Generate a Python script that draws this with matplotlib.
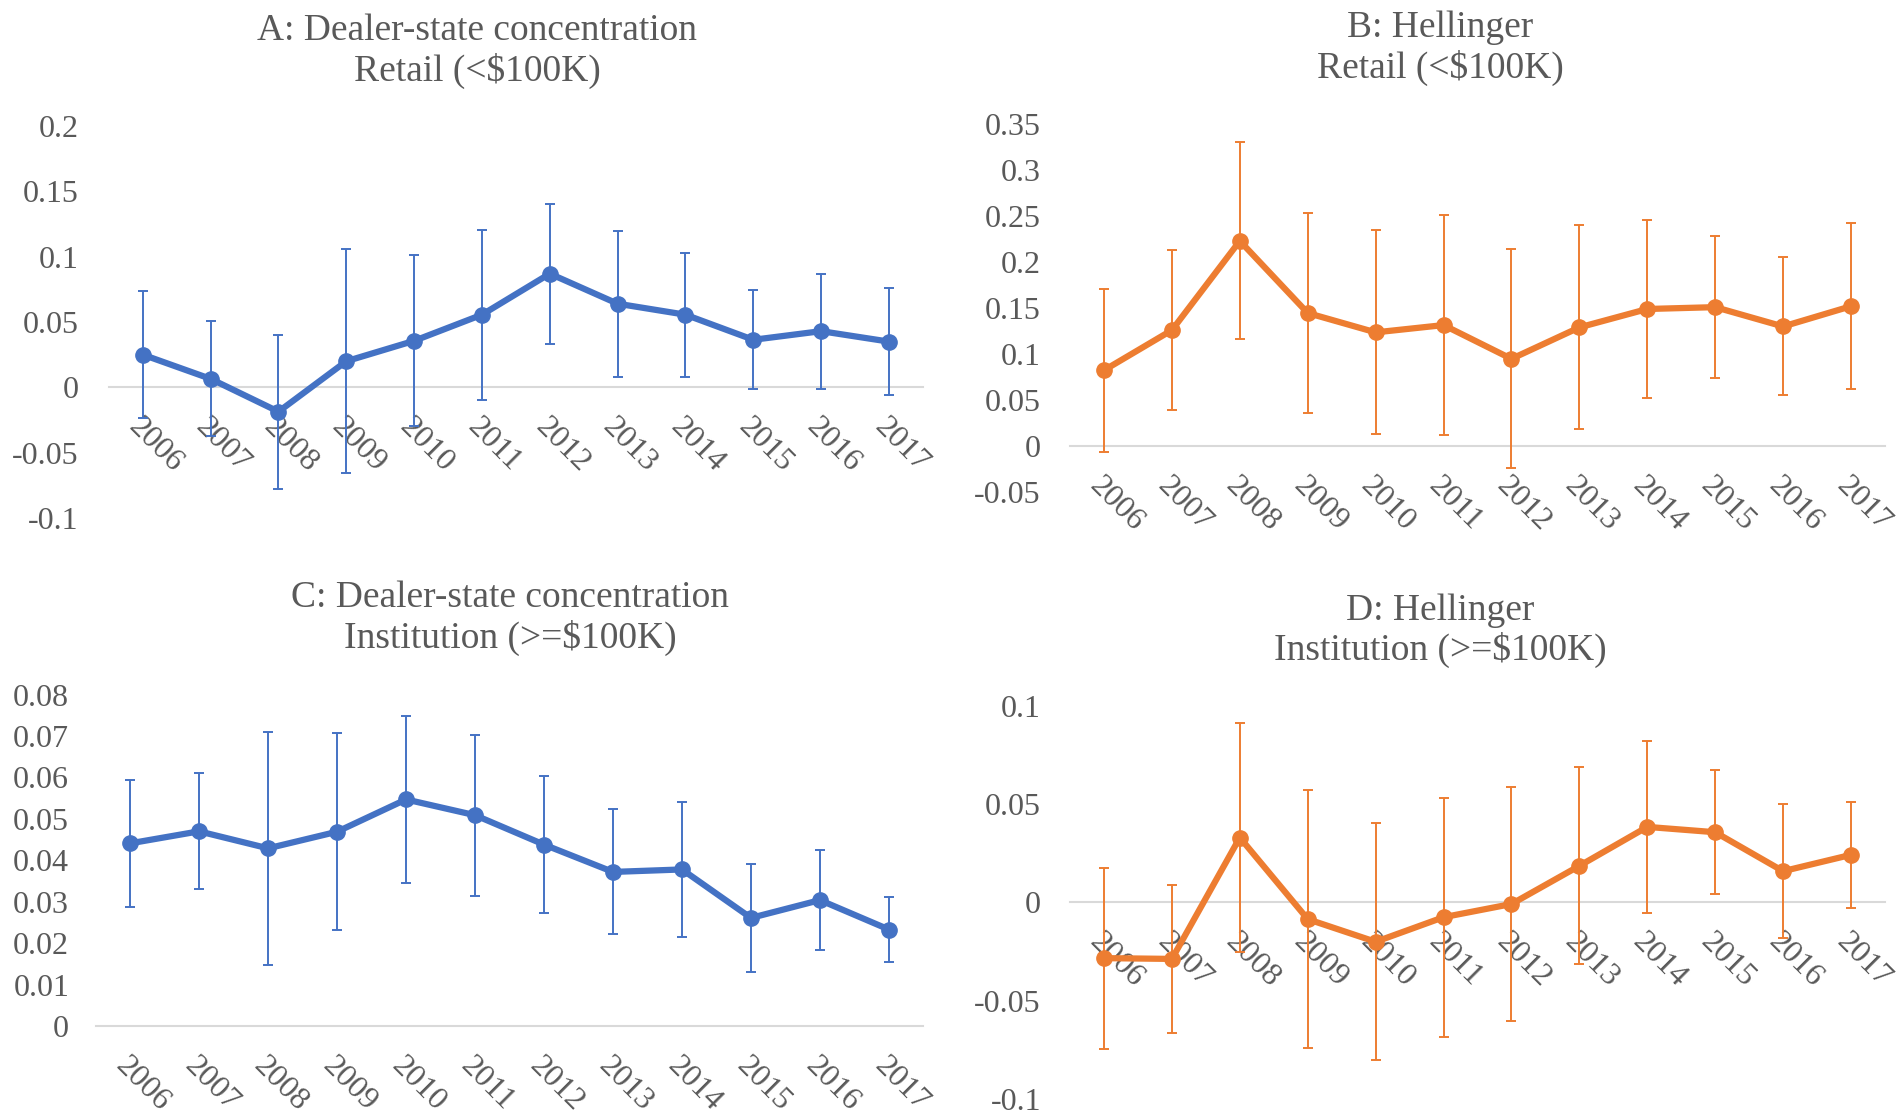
import numpy as np
import matplotlib
matplotlib.use('Agg')
import matplotlib.pyplot as plt
from matplotlib.ticker import FuncFormatter

years = ['2006', '2007', '2008', '2009', '2010', '2011', '2012', '2013', '2014', '2015', '2016', '2017']

# A: dealer-state concentration, retail
a_val = [0.025, 0.0065, -0.0186, 0.020, 0.0356, 0.0556, 0.087, 0.064, 0.0556, 0.0364, 0.043, 0.035]
a_err = [0.0485, 0.044, 0.059, 0.0855, 0.0655, 0.065, 0.0535, 0.056, 0.0475, 0.038, 0.044, 0.041]

# B: Hellinger, retail
b_val = [0.0824, 0.126, 0.223, 0.1446, 0.1236, 0.1315, 0.0948, 0.129, 0.149, 0.151, 0.130, 0.152]
b_err = [0.0886, 0.087, 0.107, 0.109, 0.111, 0.12, 0.119, 0.111, 0.097, 0.077, 0.075, 0.0905]

# C: dealer-state concentration, institution
c_val = [0.0441, 0.0470, 0.0429, 0.0469, 0.0547, 0.0509, 0.0438, 0.0372, 0.0378, 0.0261, 0.0304, 0.0233]
c_err = [0.01535, 0.014, 0.0282, 0.0238, 0.0202, 0.0194, 0.0165, 0.0151, 0.0164, 0.013, 0.012, 0.0079]

# D: Hellinger, institution
d_val = [-0.0284, -0.0288, 0.0329, -0.0086, -0.0201, -0.0076, -0.0009, 0.0185, 0.0383, 0.0356, 0.0158, 0.0241]
d_err = [0.046, 0.0378, 0.0583, 0.0656, 0.0603, 0.0607, 0.0597, 0.05, 0.0436, 0.0314, 0.034, 0.027]

BLUE = '#4472C4'
ORANGE = '#ED7D31'
TXT = '#595959'

plt.rcParams['font.family'] = ['Liberation Serif', 'DejaVu Serif']

fig = plt.figure(figsize=(19.04, 11.15), dpi=100)


def fmt(v, pos):
    v = round(v, 3)
    if v == 0:
        return '0'
    return '{:g}'.format(v)


def draw_panel(rect, vals, errs, color, ylim, step, ypad):
    ax = fig.add_axes(rect)
    x = np.arange(len(years))
    ax.errorbar(x, vals, yerr=errs, color=color, lw=4.5, marker='o', ms=11,
                ecolor=color, elinewidth=1.4, capsize=3.5, capthick=1.4, zorder=3)
    ax.set_xlim(-0.5, len(years) - 0.5)
    ax.set_ylim(*ylim)
    ax.set_yticks(np.arange(ylim[0], ylim[1] + step / 2, step))
    ax.yaxis.set_major_formatter(FuncFormatter(fmt))
    for s in ['top', 'right', 'left']:
        ax.spines[s].set_visible(False)
    ax.spines['bottom'].set_position(('data', 0))
    ax.spines['bottom'].set_color('#D9D9D9')
    ax.spines['bottom'].set_linewidth(1.5)
    ax.spines['bottom'].set_zorder(1)
    ax.set_xticks(x)
    ax.set_xticklabels(years, rotation=-45, ha='left', va='top', rotation_mode='anchor')
    ax.tick_params(axis='both', length=0, labelsize=23, colors=TXT)
    ax.tick_params(axis='y', pad=ypad)
    ax.tick_params(axis='x', pad=18)
    ax.patch.set_alpha(0)
    return ax


draw_panel([0.0572, 0.5354, 0.4275, 0.3516], a_val, a_err, BLUE, (-0.1, 0.2), 0.05, 22)
draw_panel([0.562, 0.5587, 0.428, 0.330], b_val, b_err, ORANGE, (-0.05, 0.35), 0.05, 21)
draw_panel([0.0502, 0.0798, 0.4348, 0.2972], c_val, c_err, BLUE, (0, 0.08), 0.01, 19)
draw_panel([0.562, 0.01435, 0.428, 0.3529], d_val, d_err, ORANGE, (-0.1, 0.1), 0.05, 21)

tkw = dict(ha='center', va='center', fontsize=27, color=TXT, linespacing=1.17)
fig.text(477 / 1904, 0.9537, 'A: Dealer-state concentration\nRetail (<$100K)', **tkw)
fig.text(1440 / 1904, 0.957, 'B: Hellinger\nRetail (<$100K)', **tkw)
fig.text(510 / 1904, 0.4457, 'C: Dealer-state concentration\nInstitution (>=$100K)', **tkw)
fig.text(1440 / 1904, 0.4343, 'D: Hellinger\nInstitution (>=$100K)', **tkw)

fig.savefig('out.png', dpi=100)
